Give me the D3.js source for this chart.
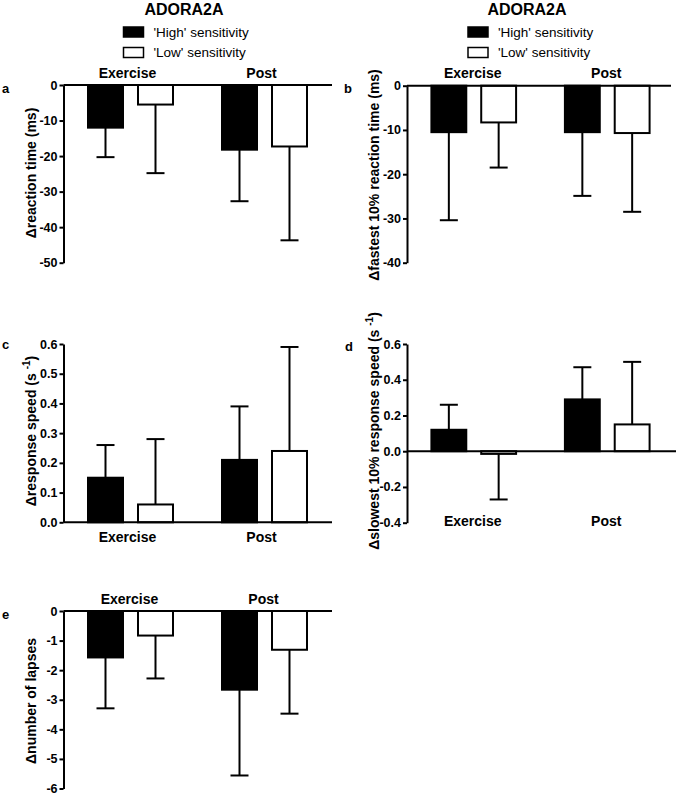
<!DOCTYPE html>
<html><head><meta charset="utf-8">
<script src="https://cdn.jsdelivr.net/npm/d3@7"></script>
<style>body{margin:0;background:#fff} svg{display:block} text{font-family:"Liberation Sans",Arial,sans-serif;fill:#000}</style>
</head><body><svg id="c" width="677" height="795"></svg>
<script>
// ---- data ----
const groups = ["Exercise", "Post"];
const seriesNames = ["'High' sensitivity", "'Low' sensitivity"];
const titleText = "ADORA2A";

// a: reaction time (ms)
const rtHigh = [-12.0, -18.2], rtHighSD = [8.3, 14.5];
const rtLow = [-5.5, -17.3], rtLowSD = [19.3, 26.4];
const ticksA = [0, -10, -20, -30, -40, -50];
// b: fastest 10% reaction time (ms)
const fastHigh = [-10.5, -10.5], fastHighSD = [19.9, 14.4];
const fastLow = [-8.3, -10.7], fastLowSD = [10.2, 17.8];
const ticksB = [0, -10, -20, -30, -40];
// c: response speed (s-1)
const speedHigh = [0.15, 0.21], speedHighSD = [0.11, 0.18];
const speedLow = [0.06, 0.24], speedLowSD = [0.22, 0.35];
const ticksC = [0.0, 0.1, 0.2, 0.3, 0.4, 0.5, 0.6];
// d: slowest 10% response speed (s-1)
const slowHigh = [0.12, 0.29], slowHighSD = [0.14, 0.18];
const slowLow = [-0.015, 0.15], slowLowSD = [0.255, 0.35];
const ticksD = [-0.4, -0.2, 0.0, 0.2, 0.4, 0.6];
// e: number of lapses
const lapHigh = [-1.57, -2.66], lapHighSD = [1.72, 2.90];
const lapLow = [-0.83, -1.31], lapLowSD = [1.45, 2.16];
const ticksE = [0, -1, -2, -3, -4, -5, -6];

const loc = d3.formatLocale({decimal: ".", thousands: ",", grouping: [3], currency: ["", ""], minus: "-"});
const fmtInt = loc.format("d"), fmt1 = loc.format(".1f");

const svg = d3.select("#c");
const FONT_BOLD = "bold";

function drawPanel(p) {
  const g = svg.append("g");
  const yMin = d3.min(p.ticks), yMax = d3.max(p.ticks);
  const y = d3.scaleLinear().domain([yMax, yMin]).range(p.yRange);
  const xG = d3.scaleBand().domain(groups).range(p.xRange).padding(0);
  const xS = d3.scaleBand().domain(seriesNames).range([0, xG.bandwidth()])
    .paddingInner(0.3).paddingOuter(0.49);

  const rows = [];
  groups.forEach((grp, i) => {
    rows.push({grp, s: seriesNames[0], v: p.high[i], sd: p.highSD[i]});
    rows.push({grp, s: seriesNames[1], v: p.low[i], sd: p.lowSD[i]});
  });

  // error bars
  const eb = g.append("g").attr("stroke", "#000").attr("stroke-width", 2).attr("fill", "none");
  rows.forEach(r => {
    const cx = xG(r.grp) + xS(r.s) + xS.bandwidth() / 2;
    const end = r.v + (r.v < 0 ? -r.sd : r.sd);
    eb.append("line").attr("x1", cx).attr("x2", cx).attr("y1", y(r.v)).attr("y2", y(end));
    eb.append("line").attr("x1", cx - 9).attr("x2", cx + 9).attr("y1", y(end)).attr("y2", y(end));
  });

  // bars
  g.append("g").selectAll("rect").data(rows).join("rect")
    .attr("x", r => xG(r.grp) + xS(r.s))
    .attr("width", xS.bandwidth())
    .attr("y", r => Math.min(y(0), y(r.v)))
    .attr("height", r => Math.abs(y(r.v) - y(0)))
    .attr("fill", r => r.s === seriesNames[0] ? "#000" : "#fff")
    .attr("stroke", "#000").attr("stroke-width", 2);

  // y axis
  const ax = g.append("g").attr("transform", `translate(${p.xRange[0]},0)`)
    .call(d3.axisLeft(y).tickValues(p.ticks).tickFormat(p.fmt).tickSize(4).tickPadding(2).tickSizeOuter(0));
  ax.select(".domain").attr("stroke-width", 2);
  ax.selectAll(".tick line").attr("stroke-width", 2);
  ax.selectAll(".tick text").attr("font-size", 12.5).attr("font-weight", FONT_BOLD).attr("fill", "#000");

  // zero line (x axis)
  g.append("line").attr("x1", p.xRange[0]).attr("x2", p.xEnd)
    .attr("y1", y(0)).attr("y2", y(0)).attr("stroke", "#000").attr("stroke-width", 2);

  // category labels
  g.append("g").selectAll("text").data(groups).join("text")
    .attr("x", d => xG(d) + xG.bandwidth() / 2 + p.catDx)
    .attr("y", p.catY)
    .attr("text-anchor", "middle").attr("font-size", 14).attr("font-weight", FONT_BOLD)
    .text(d => d);

  // panel letter
  g.append("text").attr("x", p.letterPos[0]).attr("y", p.letterPos[1])
    .attr("font-size", 13).attr("font-weight", FONT_BOLD).text(p.letter);

  // y label
  const t = g.append("text")
    .attr("transform", `translate(${p.labelPos[0]},${p.labelPos[1]}) rotate(-90)`)
    .attr("text-anchor", "middle").attr("font-size", 14).attr("font-weight", FONT_BOLD);
  t.append("tspan").text(p.yLabel);
  if (p.sup) {
    t.append("tspan").text(" (s ");
    t.append("tspan").attr("font-size", 10).attr("dy", -6).text("-1");
    t.append("tspan").attr("dy", 6).text(")");
  }
}

function drawLegend(cx, rectX) {
  svg.append("text").attr("x", cx).attr("y", 15).attr("text-anchor", "middle")
    .attr("font-size", 16).attr("font-weight", FONT_BOLD).text(titleText);
  const lg = svg.append("g");
  seriesNames.forEach((s, i) => {
    lg.append("rect").attr("x", rectX).attr("y", 27 + i * 20.5).attr("width", 20).attr("height", 10)
      .attr("fill", i === 0 ? "#000" : "#fff").attr("stroke", "#000").attr("stroke-width", 1.5);
    lg.append("text").attr("x", rectX + 30).attr("y", 37 + i * 20)
      .attr("font-size", 13.5).text(s);
  });
}

drawLegend(184, 123.5);
drawLegend(527, 468);

drawPanel({letter: "a", high: rtHigh, highSD: rtHighSD, low: rtLow, lowSD: rtLowSD,
  ticks: ticksA, fmt: fmtInt, xRange: [63.5, 331.5], xEnd: 332, yRange: [85, 262.7],
  catY: 77.5, catDx: -3, letterPos: [2, 93], labelPos: [36, 173], yLabel: "\u0394reaction time (ms)"});

drawPanel({letter: "b", high: fastHigh, highSD: fastHighSD, low: fastLow, lowSD: fastLowSD,
  ticks: ticksB, fmt: fmtInt, xRange: [407, 674], xEnd: 671, yRange: [85.7, 262.7],
  catY: 78, catDx: -1, letterPos: [344, 93], labelPos: [379, 175], yLabel: "\u0394fastest 10% reaction time (ms)"});

drawPanel({letter: "c", high: speedHigh, highSD: speedHighSD, low: speedLow, lowSD: speedLowSD,
  ticks: ticksC, fmt: fmt1, xRange: [63.5, 331.5], xEnd: 332, yRange: [344, 522.3],
  catY: 541.5, catDx: -3, letterPos: [2, 349], labelPos: [36, 431], yLabel: "\u0394response speed", sup: true});

drawPanel({letter: "d", high: slowHigh, highSD: slowHighSD, low: slowLow, lowSD: slowLowSD,
  ticks: ticksD, fmt: fmt1, xRange: [407, 674], xEnd: 676, yRange: [344, 522.7],
  catY: 526, catDx: -1, letterPos: [345, 351], labelPos: [379, 431], yLabel: "\u0394slowest 10% response speed", sup: true});

drawPanel({letter: "e", high: lapHigh, highSD: lapHighSD, low: lapLow, lowSD: lapLowSD,
  ticks: ticksE, fmt: fmtInt, xRange: [63.5, 331.5], xEnd: 332, yRange: [611, 788.5],
  catY: 604, catDx: -1, letterPos: [2, 619], labelPos: [36, 701], yLabel: "\u0394number of lapses"});
</script></body></html>
